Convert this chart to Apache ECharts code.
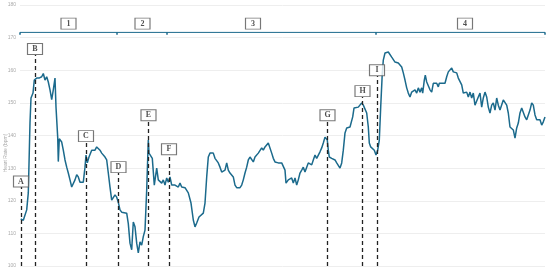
<!DOCTYPE html>
<html>
<head>
<meta charset="utf-8">
<script src="https://cdn.jsdelivr.net/npm/echarts@6/dist/echarts.min.js"></script>
<style>
  html, body { margin: 0; padding: 0; background: #fff; }
  #main { width: 550px; height: 272px; }
</style>
</head>
<body>
<div id="main"></div>
<script>
// time position of each sample (arbitrary units, start of recording = 0)
var time = [0.7,3.3,6.7,8.3,10,11,13,14.3,16.7,19,21.7,23.3,25,26.7,28.3,30,31.7,33.3,35,36,37.7,38.3,39.3,41.7,43.3,45,46.7,48.3,50,51.7,53.3,55,56.7,58.3,60,63.3,65,66,67.3,69,71.7,75,76.7,78.3,80,81.7,83.3,85,86.7,88.3,90,91.7,93.3,95,96.7,98.3,100,101.7,106.7,108.3,110,111.7,113.3,115,116.7,118.3,120,121.7,123.3,125,126.7,128.3,129,131,132.3,134.3,136.7,138.3,140,141.7,143.3,145,146.7,148.3,150,151.7,155,158.3,160,161.7,165,168.3,171,173.3,175,176.7,179,181,183.3,185,186.7,188.3,190,191.7,193.3,195,196.7,198.3,200,201.7,203.3,205,206.7,208.3,210,213.3,215,216.7,218.3,220,221.7,223.3,225,226.7,228.3,230,231.7,233.3,235,236.7,238.3,240,241.7,243.3,245,246.7,248.3,250,251.7,253.3,255,258.3,261.7,265,266,268.3,270,271.7,273.3,275,276.7,278.3,280,281.7,283.3,285,286.7,288.3,290,291.7,293.3,295,296.7,298.3,300,301.7,303.3,305,306.7,307.3,308.3,309.3,311.7,315,316.7,320,321.7,323.3,325,326.7,328.3,330,331.7,332.7,334,336,338.3,340,341.7,343.3,345,346.7,348.3,349.3,350.7,352.7,354.3,356,357.7,359.3,360.7,362.3,363.3,365,366.7,368.3,370,371.7,373.3,375,376.7,378.3,380,381.7,383.3,385,386.7,388.3,390,391.7,393.3,395,396.7,398.3,400,401.7,402.7,404.3,405.3,406.7,408.3,410,411.7,413.3,416.7,418.3,419.3,425,426.7,428.3,430,431.7,433.3,435,436.7,438.3,440,441.7,443.3,445,446.7,448.3,450,451.7,453.3,455,456.7,458.3,460,461.7,463.3,465,466.7,468.3,470,471.7,473.3,475,476.7,478.3,480,481.7,483.3,485,486.7,488.3,490,491.7,493.3,495,496.7,498.3,500,501.7,503.3,505,506.7,508.3,510,511.7,513.3,515,516.7,520,521.7,523.3,525];
// heart rate (bpm)
var heartRate = [114.4,114,117.2,122.4,144,151.5,153,157,157.6,157.6,158,159,157,158,156.4,154,151,154,157.6,148.7,139.5,132,139,138,135.5,132.5,130.3,128.5,126.4,124.2,124,126.4,128,127.3,125.7,125.7,130.3,134,131.6,133.4,135.5,135.5,136.5,136.8,135.5,134.6,135,133.4,132.5,128.5,124.2,120.2,119.6,121.8,121.1,119.5,117.2,116.5,116.2,113,107,105,113.5,112,107,104,107.4,106.4,109,111,123.3,138.6,134.6,135,133,124.8,130,126.4,127,125.4,126.4,124.8,127,125.7,127.3,124.8,124.8,124.2,125.4,124.2,124,122.4,119.3,114.1,112,113.2,115,115.6,116.2,119.3,127.3,133.4,134.6,134,134.6,133,132.5,131.6,130.3,128.8,128.5,129.4,131.6,129.4,128.5,127.3,124.8,124,124.2,124,124.8,126.4,128.5,130.3,132.5,133.4,133,131.9,133.4,134,134.6,135,136.2,135.5,136.5,137,137.7,137.7,134.6,133,131.9,131.6,131.6,129.4,125.4,126.4,126.4,127,125.4,127,124.8,126.4,128.5,129.4,130.3,128.8,130.3,131.6,131.9,131,132.5,134,133,133.4,135,136.2,137.7,139.5,139.8,138.6,135.5,133.4,133,132.5,131.6,130,131.6,135.5,140.8,142.3,142.3,142.6,142.3,145.7,148.4,147.8,148.7,149.3,150,149.3,148.7,146.9,142.6,137.7,136.5,136.2,135.5,134,135.5,138.6,148.7,159.2,163.1,165.3,165.6,165.6,165.3,164,163.8,162.5,163.1,162.2,162.5,161,159.2,157,154.6,153,151.8,153.3,153,154,153,154.6,153.3,154.6,153,157,158.5,156.4,157,154,153.3,156,156,154.9,156,156,158,159.5,159.2,160.7,159.5,159.5,159.2,157.6,157,155.5,153,152.4,153.3,151.8,153.3,151.5,153,149.3,148.7,151.8,153,148.7,151.5,153.3,151.8,148.7,146.9,149.3,150,147.8,151.5,149.3,147.8,148.4,150.9,151.5,149.3,146.9,142.6,142.3,141.7,139.2,142.3,143.8,146.9,148.4,147.8,145.7,144.8,144.8,147.8,150,149.3,146.3,144.8,144.8,143.2,144.2,145.7];

// event markers A-I
var markerNames = ['A','B','C','D','E','F','G','H','I'];
var markerTime = [1,15,66,98.5,128.5,149,307.5,342.5,357];
var markerTop = [124.2,164.7,138,128.5,144.4,134,144.4,151.8,158.2];
var markerLabelY = [125.9,166.5,139.8,130.3,146.2,135.8,146.2,153.6,160];

// phases 1-4
var phaseBounds = [0,97,147,356,525];
var phaseNames = ['1','2','3','4'];
var phaseLabelTime = [48.5,122.5,233,445];
var phaseLineY = 171.6;
var phaseLabelY = 174.3;

var yTicks = [100,110,120,130,140,150,160,170,180];

var lineColor = '#1b6a8c';

var hrData = time.map(function (t, i) { return [t, heartRate[i]]; });

// dashed vertical lines
var markerLines = markerTime.map(function (t, i) {
  return [{ coord: [t, 100] }, { coord: [t, markerTop[i]] }];
});

// phase bracket line with little ticks at each boundary
var phaseData = [];
phaseBounds.forEach(function (b) {
  phaseData.push([b, phaseLineY]);
  phaseData.push([b, phaseLineY - 0.7]);
  phaseData.push([b, phaseLineY]);
});

var boxLabel = {
  show: true,
  position: 'inside',
  color: '#222',
  fontFamily: 'Liberation Serif',
  fontWeight: 'bold',
  fontSize: 8
};

var myChart = echarts.init(document.getElementById('main'));

var option = {
  animation: false,
  grid: { left: 20, right: 5, top: 5, bottom: 6 },
  xAxis: {
    type: 'value',
    min: 0,
    max: 525,
    show: false
  },
  yAxis: {
    type: 'value',
    min: yTicks[0],
    max: yTicks[yTicks.length - 1],
    interval: 10,
    axisLine: { show: false },
    axisTick: { show: false },
    axisLabel: { fontSize: 5, color: '#aaa', margin: 4 },
    splitLine: { lineStyle: { color: '#eeeeee', width: 1 } }
  },
  graphic: [{
    type: 'text',
    x: 6,
    y: 153,
    rotation: Math.PI / 2,
    style: {
      text: 'Heart Rate (bpm)',
      fontSize: 5,
      fill: '#aaa',
      align: 'center',
      verticalAlign: 'middle'
    }
  }],
  series: [
    {
      name: 'phases',
      type: 'line',
      data: phaseData,
      symbol: 'none',
      lineStyle: { color: lineColor, width: 1 },
      z: 2
    },
    {
      name: 'HR',
      type: 'line',
      data: hrData,
      symbol: 'none',
      lineStyle: { color: lineColor, width: 1.5 },
      z: 3,
      markLine: {
        silent: true,
        symbol: ['none', 'none'],
        label: { show: false },
        lineStyle: { color: '#222', type: [4, 3], width: 1.3 },
        data: markerLines
      }
    },
    {
      name: 'markers',
      type: 'scatter',
      data: markerTime.map(function (t, i) { return [t, markerLabelY[i], markerNames[i]]; }),
      symbol: 'rect',
      symbolSize: [15, 11],
      itemStyle: { color: '#fff', borderColor: '#555', borderWidth: 1 },
      label: Object.assign({ formatter: function (p) { return p.data[2]; } }, boxLabel),
      z: 5
    },
    {
      name: 'phaseLabels',
      type: 'scatter',
      data: phaseLabelTime.map(function (t, i) { return [t, phaseLabelY, phaseNames[i]]; }),
      symbol: 'rect',
      symbolSize: [15, 11],
      itemStyle: { color: '#fff', borderColor: '#555', borderWidth: 1 },
      label: Object.assign({ formatter: function (p) { return p.data[2]; } }, boxLabel),
      z: 5
    }
  ]
};

myChart.setOption(option);
</script>
</body>
</html>
